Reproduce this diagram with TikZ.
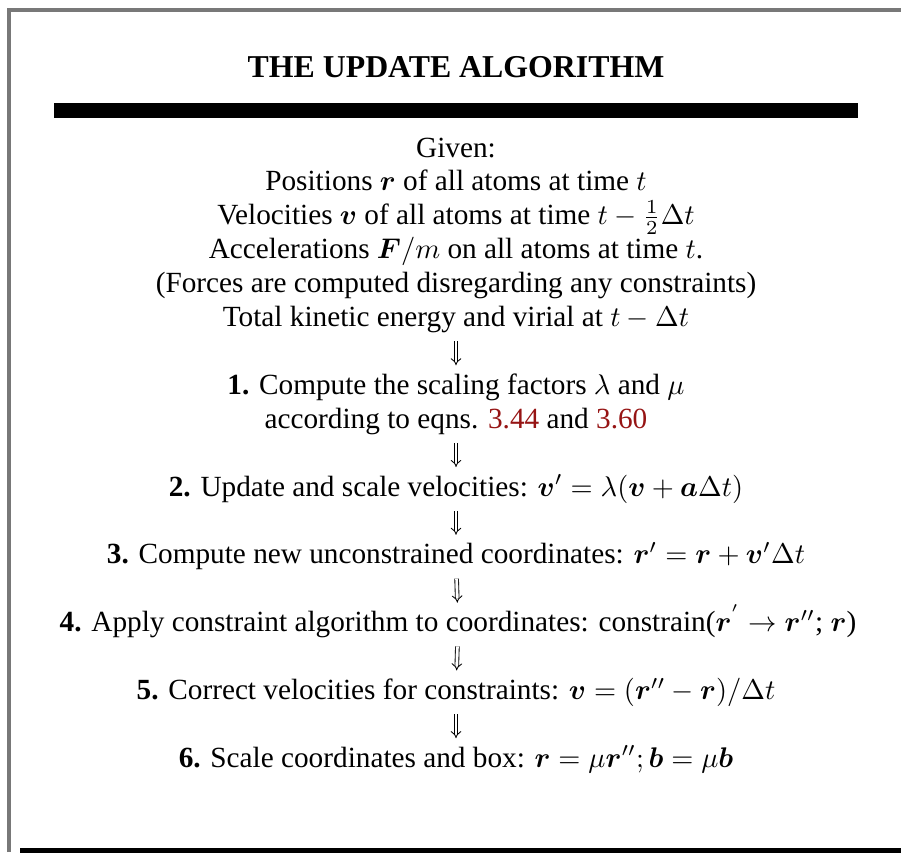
\documentclass[tikz,border=0pt]{standalone}
\usepackage[no-math]{fontspec}
\setmainfont{Liberation Serif}
\usepackage{amsmath}
\usepackage{bm}
\usetikzlibrary{arrows.meta}
\definecolor{eqnred}{RGB}{150,20,20}
\definecolor{framegray}{RGB}{120,120,120}
\begin{document}
\begin{tikzpicture}[
    x=0.352pt, y=-0.352pt,
    every node/.style={font=\fontsize{10.3}{12.4}\selectfont},
    line/.style={anchor=base, inner sep=0pt, text height=7pt, text depth=2.5pt},
    title/.style={anchor=base, inner sep=0pt, font=\fontsize{11.2}{13.4}\selectfont\bfseries},
    flow/.style={double, double distance=1pt, line width=0.3pt, -{Implies}, shorten <=2.5pt, shorten >=3pt},
    frame/.style={draw=framegray, line width=1.5}
]
    \useasboundingbox (0,0) rectangle (901,852);

% -------------------------
% Frame & Header
% -------------------------
    \draw[frame] (9,852) -- (9,10) -- (901,10); % left and top edges
    \draw[line width=2] (20,850.5) -- (901,850.5); % bottom edge

    \node[title] (head) at (456, 77) {THE UPDATE ALGORITHM};
    \draw[line width=5] (54,110.5) -- (858,110.5); % header rule

% -------------------------
% Given quantities
% -------------------------
    \node[line] (given_1) at (456, 157) {Given:};
    \node[line] (given_2) at (456, 190.9) {Positions $\bm{r}$ of all atoms at time $t$};
    \node[line] (given_3) at (456, 224.8) {Velocities $\bm{v}$ of all atoms at time $t - \frac{1}{2}\Delta t$};
    \node[line] (given_4) at (456, 258.7) {Accelerations $\bm{F}/m$ on all atoms at time $t$.};
    \node[line] (given_5) at (456, 292.6) {(Forces are computed disregarding any constraints)};
    \node[line] (given_6) at (456, 326.5) {Total kinetic energy and virial at $t - \Delta t$};

% -------------------------
% Steps
% -------------------------
    \node[line] (step1_1) at (456, 394.3) {\textbf{1.} Compute the scaling factors $\lambda$ and $\mu$};
    \node[line] (step1_2) at (456, 428.2) {according to eqns. \textcolor{eqnred}{3.44} and \textcolor{eqnred}{3.60}};
    \node[line] (step2) at (456, 496) {\textbf{2.} Update and scale velocities: $\bm{v}' = \lambda(\bm{v} + \bm{a}\Delta t)$};
    \node[line] (step3) at (456, 563.8) {\textbf{3.} Compute new unconstrained coordinates: $\bm{r}' = \bm{r} + \bm{v}'\Delta t$};
    \node[line] (step4) at (458, 631.6) {\textbf{4.} Apply constraint algorithm to coordinates: constrain($\bm{r}^{'} \rightarrow \bm{r}''$; $\bm{r}$)};
    \node[line] (step5) at (456, 699.4) {\textbf{5.} Correct velocities for constraints: $\bm{v} = (\bm{r}'' - \bm{r})/\Delta t$};
    \node[line] (step6) at (456, 767.2) {\textbf{6.} Scale coordinates and box: $\bm{r} = \mu\bm{r}''; \bm{b} = \mu\bm{b}$};

% -------------------------
% Arrows
% -------------------------
    \draw[flow] (given_6) -- (step1_1);
    \draw[flow] (step1_2) -- (step2);
    \draw[flow] (step2) -- (step3);
    \draw[flow] (step3) -- (step4);
    \draw[flow] (step4) -- (step5);
    \draw[flow] (step5) -- (step6);
\end{tikzpicture}
\end{document}
